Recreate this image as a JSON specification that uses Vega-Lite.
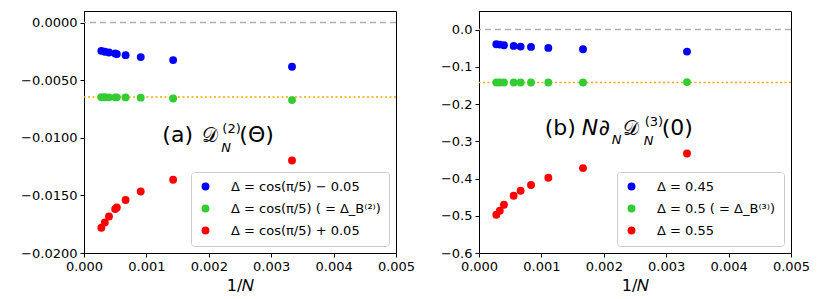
{
  "$schema": "https://vega.github.io/schema/vega-lite/v6.json",
  "background": "white",
  "padding": {"left": 20, "top": 10, "right": 5, "bottom": 5},
  "config": {
    "font": "DejaVu Sans",
    "view": {"stroke": "black", "strokeWidth": 1},
    "axis": {"grid": false, "domainColor": "black", "tickColor": "black", "labelColor": "black", "titleColor": "black", "labelFont": "DejaVu Sans", "titleFont": "DejaVu Sans", "labelFontSize": 13, "titleFontSize": 16, "titleFontWeight": "normal", "tickSize": 4, "labelPadding": 3, "labelFlush": false},
    "legend": {"labelFont": "DejaVu Sans", "labelFontSize": 13, "labelColor": "black", "strokeColor": "#cccccc", "fillColor": "white", "cornerRadius": 3, "padding": 8, "symbolSize": 62, "symbolType": "circle", "rowPadding": 8, "labelOffset": 19, "offset": 7, "labelLimit": 300, "symbolStrokeWidth": 0}
  },
  "datasets": {
    "pts": [
      {"panel": "a", "series": "Δ = cos(π/5) − 0.05", "invN": 0.0002778, "val": -0.002455},
      {"panel": "a", "series": "Δ = cos(π/5) − 0.05", "invN": 0.0003333, "val": -0.00254},
      {"panel": "a", "series": "Δ = cos(π/5) − 0.05", "invN": 0.0004, "val": -0.0026},
      {"panel": "a", "series": "Δ = cos(π/5) − 0.05", "invN": 0.0005, "val": -0.00269},
      {"panel": "a", "series": "Δ = cos(π/5) − 0.05", "invN": 0.0005263, "val": -0.00274},
      {"panel": "a", "series": "Δ = cos(π/5) − 0.05", "invN": 0.0006667, "val": -0.00283},
      {"panel": "a", "series": "Δ = cos(π/5) − 0.05", "invN": 0.0009091, "val": -0.003},
      {"panel": "a", "series": "Δ = cos(π/5) − 0.05", "invN": 0.0014286, "val": -0.00326},
      {"panel": "a", "series": "Δ = cos(π/5) − 0.05", "invN": 0.0033333, "val": -0.00384},
      {"panel": "a", "series": "Δ = cos(π/5) ( = Δ_B⁽²⁾)", "invN": 0.0002778, "val": -0.00648},
      {"panel": "a", "series": "Δ = cos(π/5) ( = Δ_B⁽²⁾)", "invN": 0.0003333, "val": -0.00648},
      {"panel": "a", "series": "Δ = cos(π/5) ( = Δ_B⁽²⁾)", "invN": 0.0004, "val": -0.00649},
      {"panel": "a", "series": "Δ = cos(π/5) ( = Δ_B⁽²⁾)", "invN": 0.0005, "val": -0.00649},
      {"panel": "a", "series": "Δ = cos(π/5) ( = Δ_B⁽²⁾)", "invN": 0.0005263, "val": -0.00649},
      {"panel": "a", "series": "Δ = cos(π/5) ( = Δ_B⁽²⁾)", "invN": 0.0006667, "val": -0.0065},
      {"panel": "a", "series": "Δ = cos(π/5) ( = Δ_B⁽²⁾)", "invN": 0.0009091, "val": -0.00652},
      {"panel": "a", "series": "Δ = cos(π/5) ( = Δ_B⁽²⁾)", "invN": 0.0014286, "val": -0.00659},
      {"panel": "a", "series": "Δ = cos(π/5) ( = Δ_B⁽²⁾)", "invN": 0.0033333, "val": -0.00673},
      {"panel": "a", "series": "Δ = cos(π/5) + 0.05", "invN": 0.0002778, "val": -0.01781},
      {"panel": "a", "series": "Δ = cos(π/5) + 0.05", "invN": 0.0003333, "val": -0.01735},
      {"panel": "a", "series": "Δ = cos(π/5) + 0.05", "invN": 0.0004, "val": -0.01683},
      {"panel": "a", "series": "Δ = cos(π/5) + 0.05", "invN": 0.0005, "val": -0.01618},
      {"panel": "a", "series": "Δ = cos(π/5) + 0.05", "invN": 0.0005263, "val": -0.01605},
      {"panel": "a", "series": "Δ = cos(π/5) + 0.05", "invN": 0.0006667, "val": -0.0154},
      {"panel": "a", "series": "Δ = cos(π/5) + 0.05", "invN": 0.0009091, "val": -0.01466},
      {"panel": "a", "series": "Δ = cos(π/5) + 0.05", "invN": 0.0014286, "val": -0.01364},
      {"panel": "a", "series": "Δ = cos(π/5) + 0.05", "invN": 0.0033333, "val": -0.01197},
      {"panel": "b", "series": "Δ = 0.45", "invN": 0.0002778, "val": -0.0392},
      {"panel": "b", "series": "Δ = 0.45", "invN": 0.0003333, "val": -0.0402},
      {"panel": "b", "series": "Δ = 0.45", "invN": 0.0004, "val": -0.0419},
      {"panel": "b", "series": "Δ = 0.45", "invN": 0.0005556, "val": -0.0437},
      {"panel": "b", "series": "Δ = 0.45", "invN": 0.0006667, "val": -0.0456},
      {"panel": "b", "series": "Δ = 0.45", "invN": 0.0008333, "val": -0.0464},
      {"panel": "b", "series": "Δ = 0.45", "invN": 0.0011111, "val": -0.0491},
      {"panel": "b", "series": "Δ = 0.45", "invN": 0.0016667, "val": -0.0526},
      {"panel": "b", "series": "Δ = 0.45", "invN": 0.0033333, "val": -0.059},
      {"panel": "b", "series": "Δ = 0.5 ( = Δ_B⁽³⁾)", "invN": 0.0002778, "val": -0.142},
      {"panel": "b", "series": "Δ = 0.5 ( = Δ_B⁽³⁾)", "invN": 0.0003333, "val": -0.142},
      {"panel": "b", "series": "Δ = 0.5 ( = Δ_B⁽³⁾)", "invN": 0.0004, "val": -0.142},
      {"panel": "b", "series": "Δ = 0.5 ( = Δ_B⁽³⁾)", "invN": 0.0005556, "val": -0.142},
      {"panel": "b", "series": "Δ = 0.5 ( = Δ_B⁽³⁾)", "invN": 0.0006667, "val": -0.142},
      {"panel": "b", "series": "Δ = 0.5 ( = Δ_B⁽³⁾)", "invN": 0.0008333, "val": -0.142},
      {"panel": "b", "series": "Δ = 0.5 ( = Δ_B⁽³⁾)", "invN": 0.0011111, "val": -0.142},
      {"panel": "b", "series": "Δ = 0.5 ( = Δ_B⁽³⁾)", "invN": 0.0016667, "val": -0.142},
      {"panel": "b", "series": "Δ = 0.5 ( = Δ_B⁽³⁾)", "invN": 0.0033333, "val": -0.141},
      {"panel": "b", "series": "Δ = 0.55", "invN": 0.0002778, "val": -0.4972},
      {"panel": "b", "series": "Δ = 0.55", "invN": 0.0003333, "val": -0.4865},
      {"panel": "b", "series": "Δ = 0.55", "invN": 0.0004, "val": -0.4704},
      {"panel": "b", "series": "Δ = 0.55", "invN": 0.0005556, "val": -0.4463},
      {"panel": "b", "series": "Δ = 0.55", "invN": 0.0006667, "val": -0.4328},
      {"panel": "b", "series": "Δ = 0.55", "invN": 0.0008333, "val": -0.4175},
      {"panel": "b", "series": "Δ = 0.55", "invN": 0.0011111, "val": -0.398},
      {"panel": "b", "series": "Δ = 0.55", "invN": 0.0016667, "val": -0.3719},
      {"panel": "b", "series": "Δ = 0.55", "invN": 0.0033333, "val": -0.3327}
    ],
    "annA": [{"x": 0.001256, "y": -0.01035, "lab": "(a)", "D": "𝒟", "sup": "(2)", "sub": "N", "tail": "(Θ)"}],
    "annB": [{"x": 0.001053, "y": -0.2844, "lab": "(b)", "N": "N", "d": "∂", "sub": "N", "D": "𝒟", "sup": "(3)", "tail": "(0)"}]
  },
  "resolve": {"scale": {"color": "independent", "x": "independent", "y": "independent"}, "legend": {"color": "independent"}},
  "spacing": 23,
  "hconcat": [
    {
      "width": 312, "height": 242,
      "layer": [
        {"data": {"values": [{}]}, "mark": {"type": "rule", "color": "#b0b0b0", "strokeDash": [6, 4], "strokeWidth": 1.5}, "encoding": {"y": {"datum": 0, "type": "quantitative", "scale": {"domain": [-0.02, 0.001], "nice": false, "zero": false}}}},
        {"data": {"values": [{}]}, "mark": {"type": "rule", "color": "orange", "strokeDash": [2, 2.5], "strokeWidth": 1.5}, "encoding": {"y": {"datum": -0.00647, "type": "quantitative"}}},
        {
          "data": {"name": "pts"},
          "transform": [{"filter": "datum.panel === 'a'"}],
          "mark": {"type": "circle", "size": 62, "opacity": 1},
          "encoding": {
            "x": {"field": "invN", "type": "quantitative", "title": "1/𝑁", "scale": {"domain": [0, 0.005], "nice": false, "zero": false}, "axis": {"values": [0, 0.001, 0.002, 0.003, 0.004, 0.005], "format": ".3f", "titlePadding": 4}},
            "y": {"field": "val", "type": "quantitative", "title": null, "scale": {"domain": [-0.02, 0.001], "nice": false, "zero": false}, "axis": {"values": [-0.02, -0.0175, -0.015, -0.0125, -0.01, -0.0075, -0.005, -0.0025, 0], "format": ".4f"}},
            "color": {"field": "series", "type": "nominal", "scale": {"domain": ["Δ = cos(π/5) − 0.05", "Δ = cos(π/5) ( = Δ_B⁽²⁾)", "Δ = cos(π/5) + 0.05"], "range": ["#0000ff", "#32cd32", "#ff0000"]}, "legend": {"title": null, "orient": "bottom-right"}}
          }
        },
        {"data": {"name": "annA"}, "mark": {"type": "text", "align": "left", "baseline": "alphabetic", "fontSize": 22, "color": "black"}, "encoding": {"x": {"field": "x", "type": "quantitative"}, "y": {"field": "y", "type": "quantitative"}, "text": {"field": "lab"}}},
        {"data": {"name": "annA"}, "mark": {"type": "text", "align": "left", "baseline": "alphabetic", "fontSize": 20, "dx": 40, "color": "black"}, "encoding": {"x": {"field": "x", "type": "quantitative"}, "y": {"field": "y", "type": "quantitative"}, "text": {"field": "D"}}},
        {"data": {"name": "annA"}, "mark": {"type": "text", "align": "left", "baseline": "alphabetic", "fontSize": 13, "dx": 60, "dy": -9, "color": "black"}, "encoding": {"x": {"field": "x", "type": "quantitative"}, "y": {"field": "y", "type": "quantitative"}, "text": {"field": "sup"}}},
        {"data": {"name": "annA"}, "mark": {"type": "text", "align": "left", "baseline": "alphabetic", "fontSize": 13, "fontStyle": "italic", "dx": 59, "dy": 10, "color": "black"}, "encoding": {"x": {"field": "x", "type": "quantitative"}, "y": {"field": "y", "type": "quantitative"}, "text": {"field": "sub"}}},
        {"data": {"name": "annA"}, "mark": {"type": "text", "align": "left", "baseline": "alphabetic", "fontSize": 22, "dx": 77, "color": "black"}, "encoding": {"x": {"field": "x", "type": "quantitative"}, "y": {"field": "y", "type": "quantitative"}, "text": {"field": "tail"}}}
      ]
    },
    {
      "width": 312, "height": 242,
      "layer": [
        {"data": {"values": [{}]}, "mark": {"type": "rule", "color": "#b0b0b0", "strokeDash": [6, 4], "strokeWidth": 1.5}, "encoding": {"y": {"datum": 0, "type": "quantitative", "scale": {"domain": [-0.6, 0.05], "nice": false, "zero": false}}}},
        {"data": {"values": [{}]}, "mark": {"type": "rule", "color": "orange", "strokeDash": [2, 2.5], "strokeWidth": 1.5}, "encoding": {"y": {"datum": -0.142, "type": "quantitative"}}},
        {
          "data": {"name": "pts"},
          "transform": [{"filter": "datum.panel === 'b'"}],
          "mark": {"type": "circle", "size": 62, "opacity": 1},
          "encoding": {
            "x": {"field": "invN", "type": "quantitative", "title": "1/𝑁", "scale": {"domain": [0, 0.005], "nice": false, "zero": false}, "axis": {"values": [0, 0.001, 0.002, 0.003, 0.004, 0.005], "format": ".3f", "titlePadding": 4}},
            "y": {"field": "val", "type": "quantitative", "title": null, "scale": {"domain": [-0.6, 0.05], "nice": false, "zero": false}, "axis": {"values": [-0.6, -0.5, -0.4, -0.3, -0.2, -0.1, 0], "format": ".1f"}},
            "color": {"field": "series", "type": "nominal", "scale": {"domain": ["Δ = 0.45", "Δ = 0.5 ( = Δ_B⁽³⁾)", "Δ = 0.55"], "range": ["#0000ff", "#32cd32", "#ff0000"]}, "legend": {"title": null, "orient": "bottom-right"}}
          }
        },
        {"data": {"name": "annB"}, "mark": {"type": "text", "align": "left", "baseline": "alphabetic", "fontSize": 22, "color": "black"}, "encoding": {"x": {"field": "x", "type": "quantitative"}, "y": {"field": "y", "type": "quantitative"}, "text": {"field": "lab"}}},
        {"data": {"name": "annB"}, "mark": {"type": "text", "align": "left", "baseline": "alphabetic", "fontSize": 22, "fontStyle": "italic", "dx": 37, "color": "black"}, "encoding": {"x": {"field": "x", "type": "quantitative"}, "y": {"field": "y", "type": "quantitative"}, "text": {"field": "N"}}},
        {"data": {"name": "annB"}, "mark": {"type": "text", "align": "left", "baseline": "alphabetic", "fontSize": 22, "dx": 54, "color": "black"}, "encoding": {"x": {"field": "x", "type": "quantitative"}, "y": {"field": "y", "type": "quantitative"}, "text": {"field": "d"}}},
        {"data": {"name": "annB"}, "mark": {"type": "text", "align": "left", "baseline": "alphabetic", "fontSize": 13, "fontStyle": "italic", "dx": 67, "dy": 9, "color": "black"}, "encoding": {"x": {"field": "x", "type": "quantitative"}, "y": {"field": "y", "type": "quantitative"}, "text": {"field": "sub"}}},
        {"data": {"name": "annB"}, "mark": {"type": "text", "align": "left", "baseline": "alphabetic", "fontSize": 20, "dx": 78, "color": "black"}, "encoding": {"x": {"field": "x", "type": "quantitative"}, "y": {"field": "y", "type": "quantitative"}, "text": {"field": "D"}}},
        {"data": {"name": "annB"}, "mark": {"type": "text", "align": "left", "baseline": "alphabetic", "fontSize": 13, "dx": 100, "dy": -9, "color": "black"}, "encoding": {"x": {"field": "x", "type": "quantitative"}, "y": {"field": "y", "type": "quantitative"}, "text": {"field": "sup"}}},
        {"data": {"name": "annB"}, "mark": {"type": "text", "align": "left", "baseline": "alphabetic", "fontSize": 13, "fontStyle": "italic", "dx": 99, "dy": 10, "color": "black"}, "encoding": {"x": {"field": "x", "type": "quantitative"}, "y": {"field": "y", "type": "quantitative"}, "text": {"field": "sub"}}},
        {"data": {"name": "annB"}, "mark": {"type": "text", "align": "left", "baseline": "alphabetic", "fontSize": 22, "dx": 117, "color": "black"}, "encoding": {"x": {"field": "x", "type": "quantitative"}, "y": {"field": "y", "type": "quantitative"}, "text": {"field": "tail"}}}
      ]
    }
  ]
}
